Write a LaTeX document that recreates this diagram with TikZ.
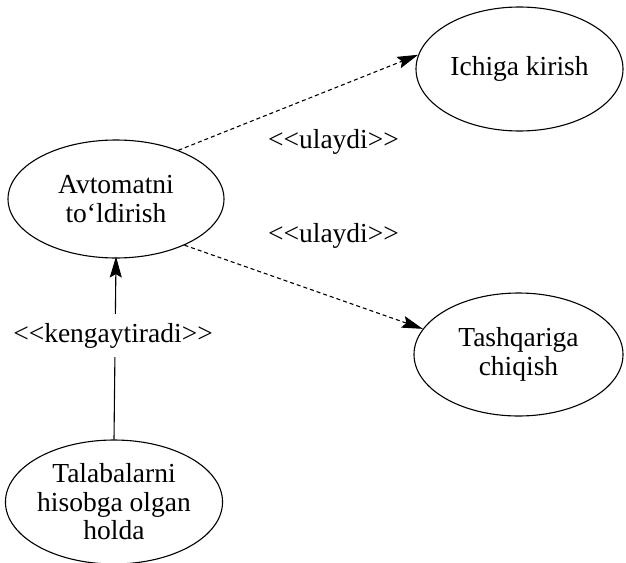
\documentclass[tikz,border=0pt]{standalone}
\usepackage{fontspec}
\setmainfont{Liberation Serif}[Ligatures=Common]
\usetikzlibrary{arrows.meta,shapes.geometric}
\newcommand{\stereotype}[1]{<\kern0pt<#1>\kern0pt>}
\begin{document}
\begin{tikzpicture}[x=1pt,y=-1pt,
  usecase/.style={draw,ellipse,line width=1.1pt,inner sep=0pt,align=center,
    font=\rmfamily\fontsize{27.5}{28.5}\selectfont},
  stereo/.style={font=\rmfamily\fontsize{27.5}{28.5}\selectfont,inner sep=0pt},
  tip/.style={-{Stealth[length=21pt,width=12pt,inset=3.5pt]}},
  depends/.style={tip,line width=1.1pt,dash pattern=on 4pt off 3pt},
  extends/.style={tip,line width=1.1pt}]
\useasboundingbox (0,0) rectangle (626,562);

% use cases
\node[usecase,minimum width=216pt,minimum height=118pt] (avt) at (116,199)
  {Avtomatni\\to‘ldirish};
\node[usecase,minimum width=207pt,minimum height=124pt] (ich) at (519.5,69)
  {Ichiga kirish};
\node[usecase,minimum width=209pt,minimum height=123pt] (tash) at (518.5,354.5)
  {Tashqariga\\chiqish};
\node[usecase,minimum width=216pt,minimum height=124pt] (tal) at (114,502)
  {Talabalarni\\hisobga olgan\\holda};

% include relations
\draw[depends] (avt.38) -- (ich.172);
\draw[depends] (avt.-34) -- (tash.165);
\node[stereo,anchor=base] (inc1) at (333.5,148) {\stereotype{ulaydi}};
\node[stereo,anchor=base] (inc2) at (333.5,242) {\stereotype{ulaydi}};

% extend relation
\draw[extends,shorten >=-2pt] (tal.north) -- (avt.south);
\node[stereo,anchor=base,fill=white,inner ysep=9pt,inner xsep=2pt] (ext) at (113,342)
  {\stereotype{kengaytiradi}};
\end{tikzpicture}
\end{document}
